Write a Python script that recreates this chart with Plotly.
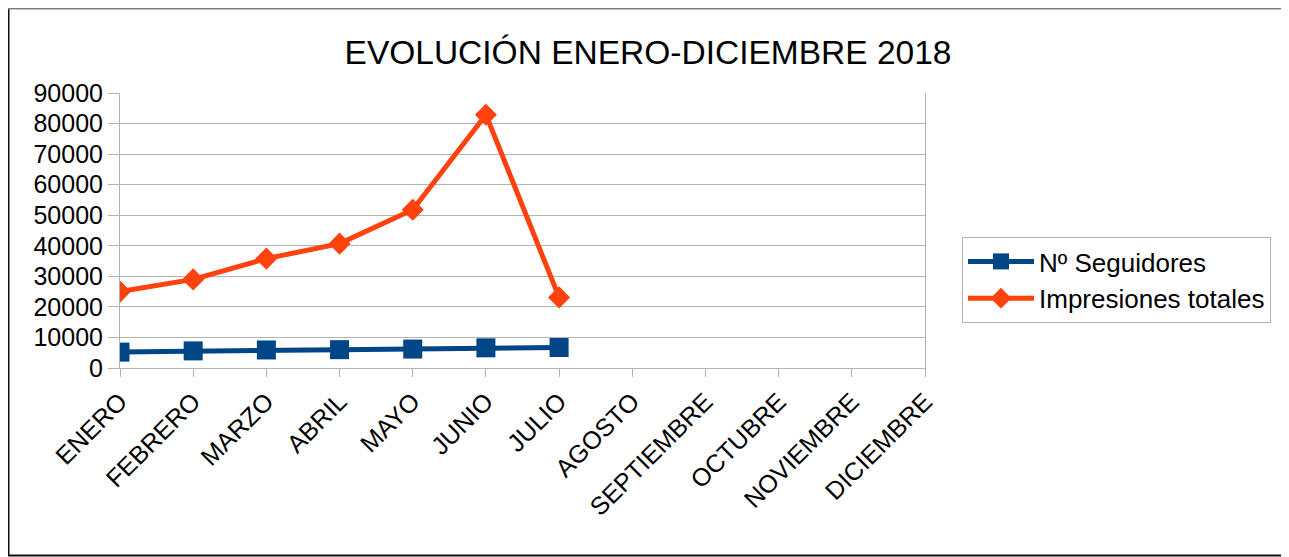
import plotly.graph_objects as go

meses = ["ENERO", "FEBRERO", "MARZO", "ABRIL", "MAYO", "JUNIO", "JULIO",
         "AGOSTO", "SEPTIEMBRE", "OCTUBRE", "NOVIEMBRE", "DICIEMBRE"]
seguidores = [5200, 5600, 5900, 6000, 6200, 6600, 6700, None, None, None, None, None]
impresiones = [25000, 29000, 35800, 40700, 51800, 82900, 23100, None, None, None, None, None]

FONT = "Liberation Sans, Arial, sans-serif"
AZUL = "#004586"
NARANJA = "#ff420e"

fig = go.Figure()
fig.add_trace(go.Scatter(
    x=meses, y=seguidores, name="Nº Seguidores", mode="lines+markers",
    line=dict(color=AZUL, width=5), marker=dict(symbol="square", size=19, color=AZUL),
))
fig.add_trace(go.Scatter(
    x=meses, y=impresiones, name="Impresiones totales", mode="lines+markers",
    line=dict(color=NARANJA, width=5), marker=dict(symbol="diamond", size=17, color=NARANJA),
))

# page has an 8px body margin; figure coordinates = page coordinates - 8
OFF = 8
W, H = 1289 - OFF, 557 - OFF
L, T = 120 - OFF, 93 - OFF
pw, ph = 805, 275
R, B = W - L - pw, H - T - ph


def px_x(x):
    return (x - OFF - L) / pw


def px_y(y):
    return (H - B - (y - OFF)) / ph


fig.update_layout(
    width=W, height=H,
    margin=dict(l=L, r=R, t=T, b=B),
    paper_bgcolor="white", plot_bgcolor="white",
    font=dict(family=FONT, size=25, color="black"),
    title=dict(text="EVOLUCIÓN ENERO-DICIEMBRE 2018", x=(648 - OFF) / W, xanchor="center",
               y=1 - (52 - OFF) / H, yanchor="middle", yref="container",
               font=dict(family=FONT, size=33.5, color="black")),
    showlegend=True,
    legend=dict(x=px_x(962), y=px_y(237), xanchor="left", yanchor="top",
                bordercolor="#b3b3b3", borderwidth=1, bgcolor="white",
                font=dict(family=FONT, size=26, color="black"),
                itemwidth=66, tracegroupgap=0),
    xaxis=dict(type="category", categoryorder="array", categoryarray=meses,
               range=[0, 11], showgrid=False, showline=True, linecolor="#b3b3b3",
               linewidth=1, ticks="outside", ticklen=8, tickcolor="#b3b3b3",
               tickangle=-45, tickfont=dict(family=FONT, size=25, color="black"),
               zeroline=False),
    yaxis=dict(range=[0, 90000], dtick=10000, tickformat="d", showgrid=True,
               gridcolor="#b3b3b3", gridwidth=1, showline=True, mirror=True,
               linecolor="#b3b3b3", linewidth=1, ticks="outside", ticklen=11,
               tickcolor="#b3b3b3", zeroline=False,
               tickfont=dict(family=FONT, size=25, color="black")),
    shapes=[
        dict(type="line", xref="paper", yref="paper",
             x0=px_x(OFF + 0.5), x1=px_x(OFF + 0.5), y0=px_y(556), y1=px_y(OFF),
             line=dict(color="#111111", width=2), layer="below"),
        dict(type="line", xref="paper", yref="paper",
             x0=px_x(OFF), x1=px_x(1289), y0=px_y(OFF + 0.5), y1=px_y(OFF + 0.5),
             line=dict(color="#808080", width=2), layer="below"),
        dict(type="line", xref="paper", yref="paper",
             x0=px_x(OFF), x1=px_x(1289), y0=px_y(555.5), y1=px_y(555.5),
             line=dict(color="#111111", width=2), layer="below"),
    ],
)

fig.write_html("out.html")
